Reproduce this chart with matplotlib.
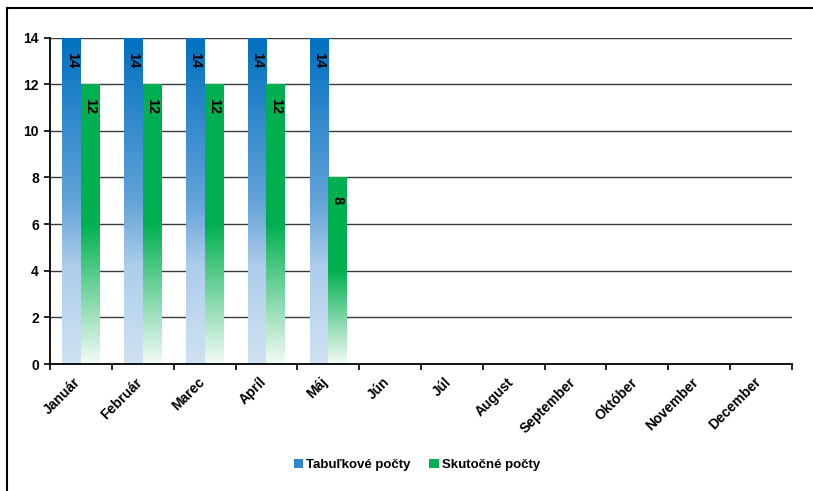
import numpy as np
import matplotlib
matplotlib.use("Agg")
import matplotlib.pyplot as plt
from matplotlib.colors import LinearSegmentedColormap
from matplotlib.lines import Line2D
from matplotlib.patches import Patch

plt.rcParams['font.family'] = ['Liberation Sans', 'DejaVu Sans']

months = ["Január", "Február", "Marec", "Apríl", "Máj", "Jún", "Júl", "August",
          "September", "Október", "November", "December"]
planned = [14, 14, 14, 14, 14, np.nan, np.nan, np.nan, np.nan, np.nan, np.nan, np.nan]
actual = [12, 12, 12, 12, 8, np.nan, np.nan, np.nan, np.nan, np.nan, np.nan, np.nan]
series_names = ["Tabuľkové počty", "Skutočné počty"]
y_ticks = [0, 2, 4, 6, 8, 10, 12, 14]

blue_cmap = LinearSegmentedColormap.from_list(
    "b", [(0.0, "#D0E2F3"), (0.3, "#ADCDEB"), (0.5, "#62A2D8"), (1.0, "#0070C0")])
green_cmap = LinearSegmentedColormap.from_list(
    "g", [(0.0, "#F3FBF6"), (0.5, "#00B050"), (1.0, "#00B050")])

fig = plt.figure(figsize=(8.13, 4.91), dpi=100)
ax = fig.add_axes([50/813, 1-364/491, (792-50)/813, (364-37.5)/491])

x = np.arange(len(months))
w = 0.3
grad = np.linspace(0, 1, 256).reshape(-1, 1)

for vals, off, cmap in [(planned, -w/2, blue_cmap), (actual, w/2, green_cmap)]:
    bars = ax.bar(x + off, vals, w, color='none', edgecolor='none', zorder=2)
    for rect, v in zip(bars, vals):
        if not np.isfinite(v):
            continue
        x0 = rect.get_x()
        ax.imshow(grad, extent=[x0, x0 + rect.get_width(), 0, rect.get_height()],
                  origin='lower', aspect='auto', cmap=cmap, zorder=2, interpolation='bilinear')
        ax.annotate(f"{v:g}", xy=(x0 + rect.get_width()/2, v), xytext=(0, -16),
                    textcoords='offset points', rotation=-90, ha='center', va='center',
                    fontsize=10.5, fontweight='bold', color='black', zorder=3)

ax.set_xlim(-0.5, len(months) - 0.5)
ax.set_ylim(0, 14)
ax.set_yticks(y_ticks)
ax.set_yticklabels([str(t) for t in y_ticks], fontsize=10, fontweight='bold')
for t in y_ticks[1:]:
    ax.axhline(t, color='#3a3a3a', lw=1.0, zorder=1)

ax.set_xticks(np.arange(-0.5, len(months), 1))
ax.set_xticklabels([])
ax.set_xticks(x + 0.04, minor=True)
ax.set_xticklabels(months, minor=True, rotation=45, ha='right', va='top',
                   fontsize=10, fontweight='bold')
ax.tick_params(axis='x', which='minor', length=0, pad=8)
ax.tick_params(axis='x', which='major', length=4, width=1.2, direction='out', color='black')
ax.tick_params(axis='y', length=4, width=1.2, direction='out', color='black', pad=4)

for s in ['top', 'right']:
    ax.spines[s].set_visible(False)
for s in ['left', 'bottom']:
    ax.spines[s].set_color('black')
    ax.spines[s].set_linewidth(1.3)
ax.set_axisbelow(False)

handles = [Patch(facecolor='#2E86D0', edgecolor='none'),
           Patch(facecolor='#00B050', edgecolor='none')]
fig.legend(handles, series_names, loc='center', bbox_to_anchor=(417/813, 1-465/491),
           ncol=2, frameon=False, prop={'weight': 'bold', 'size': 9.5},
           handlelength=0.7, handleheight=0.7, handletextpad=0.25, columnspacing=1.4)

# chart-area border (extends beyond right and bottom edges of the image)
fig.add_artist(Line2D([7/813, 1.0], [1-8/491, 1-8/491], transform=fig.transFigure,
                      color='black', lw=1.5))
fig.add_artist(Line2D([7/813, 7/813], [0.0, 1-8/491], transform=fig.transFigure,
                      color='black', lw=1.5))

fig.savefig("out.png", dpi=100)
